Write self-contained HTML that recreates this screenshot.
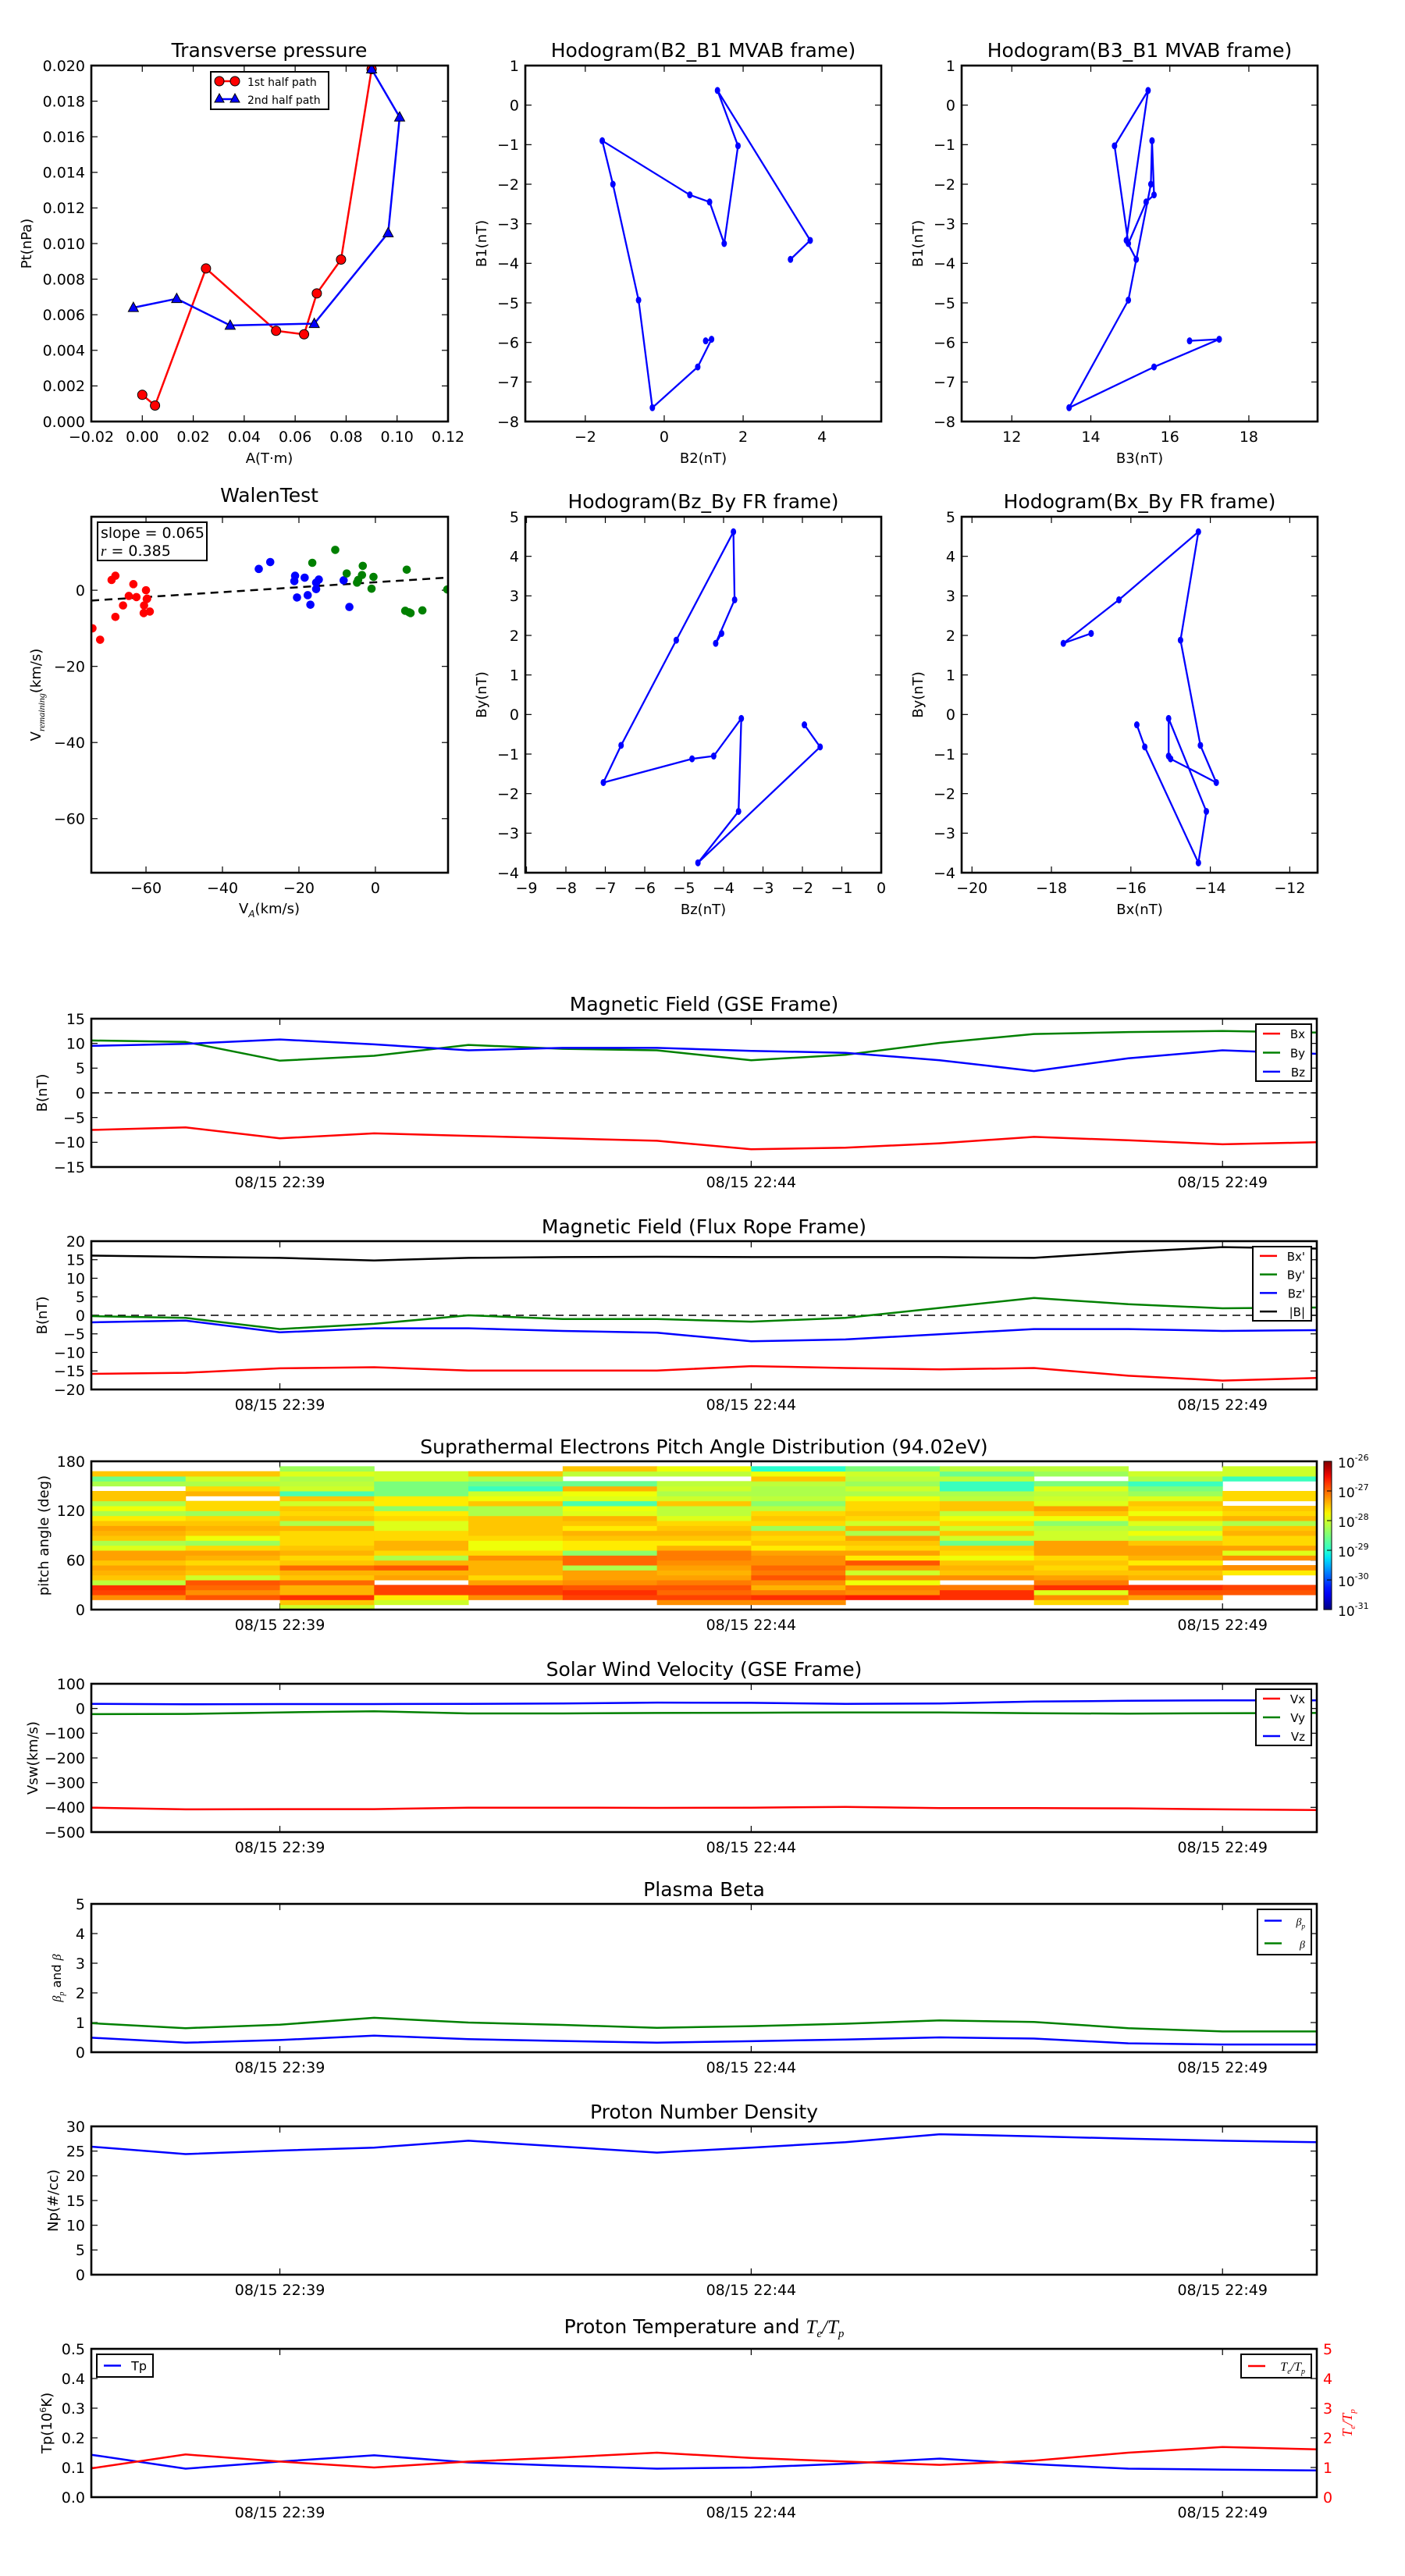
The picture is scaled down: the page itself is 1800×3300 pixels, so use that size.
<!DOCTYPE html>
<html><head><meta charset="utf-8"><style>
body{margin:0;background:#fff}
svg{display:block;font-family:"DejaVu Sans","Liberation Sans",sans-serif}
</style></head><body>
<svg id="fig" xmlns="http://www.w3.org/2000/svg" width="1800" height="3300" viewBox="0 0 1800 3300"></svg>
<script>
// ---------- data ----------
const tpA1=[0,0.005,0.025,0.0525,0.0635,0.0685,0.078,0.09];
const tpP1=[0.0015,0.0009,0.0086,0.0051,0.0049,0.0072,0.0091,0.0198];
const tpA2=[0.09,0.101,0.0965,0.0675,0.0345,0.0135,-0.0035];
const tpP2=[0.0198,0.0171,0.0106,0.0055,0.0054,0.0069,0.0064];
const mvB1=[-3.9,-3.42,0.37,-1.03,-3.5,-2.45,-2.27,-0.9,-2.0,-4.93,-7.65,-6.62,-5.92,-5.96];
const mvB2=[3.2,3.7,1.35,1.87,1.52,1.15,0.65,-1.57,-1.3,-0.65,-0.3,0.85,1.2,1.05];
const mvB3=[15.15,14.9,15.45,14.6,14.95,15.4,15.6,15.55,15.52,14.95,13.45,15.6,17.25,16.5];
const frBy=[2.05,1.8,2.9,4.62,1.88,-0.78,-1.72,-1.12,-1.05,-0.1,-2.45,-3.75,-0.82,-0.26];
const frBz=[-4.05,-4.2,-3.72,-3.75,-5.2,-6.6,-7.05,-4.8,-4.25,-3.55,-3.62,-4.65,-1.55,-1.95];
const frBx=[-17.0,-17.7,-16.3,-14.3,-14.75,-14.25,-13.85,-15.0,-15.05,-15.05,-14.1,-14.3,-15.65,-15.85];
const walRedX=[-74,-72,-69,-68,-68,-66,-64.5,-63.3,-62.5,-60,-60.5,-60.6,-59.7,-59,-59.8];
const walRedY=[-10,-13,2.7,3.8,-7,-4,-1.5,1.6,-1.8,0,-4,-6,-2.2,-5.6,-2.3];
const walBlueX=[-30.5,-27.5,-21,-21.2,-20.5,-18.5,-17.7,-17,-15.5,-15.5,-14.8,-8.3,-6.8];
const walBlueY=[5.6,7.4,3.8,2.4,-1.9,3.3,-1.3,-3.8,2,0.3,2.8,2.6,-4.4];
const walGreenX=[-16.5,-10.5,-7.5,-4.8,-4.5,-3.5,-3.3,-1,-0.5,7.8,8.2,8.8,9.2,12.3,18.8];
const walGreenY=[7.2,10.6,4.4,2.0,2.7,4,6.4,0.4,3.5,-5.4,5.4,-5.8,-6.0,-5.3,0.2];
const walSlope=0.065, walIntercept=2.1;
const tMin=[0,1,2,3,4,5,6,7,8,9,10,11,12,13];
const timeTicks=[2,7,12];
const timeLabels=["08/15 22:39","08/15 22:44","08/15 22:49"];
const gseBx=[-7.5,-7.0,-9.2,-8.2,-8.7,-9.2,-9.7,-11.4,-11.1,-10.2,-8.9,-9.6,-10.4,-10.0];
const gseBy=[10.6,10.3,6.5,7.5,9.7,8.9,8.6,6.6,7.7,10.1,11.9,12.3,12.5,12.2];
const gseBz=[9.5,9.9,10.8,9.8,8.6,9.1,9.1,8.5,8.1,6.6,4.4,7.0,8.6,7.9];
const frpBx=[-15.8,-15.5,-14.3,-14.0,-14.9,-14.9,-14.9,-13.7,-14.2,-14.6,-14.2,-16.3,-17.6,-16.9];
const frpBy=[-0.2,-0.7,-3.7,-2.3,0,-1.0,-1.0,-1.7,-0.7,2.0,4.7,3.0,1.9,2.1];
const frpBz=[-1.9,-1.4,-4.6,-3.5,-3.5,-4.2,-4.7,-7.0,-6.5,-5.1,-3.7,-3.7,-4.2,-4.0];
const frpBt=[16.1,15.8,15.5,14.8,15.5,15.7,15.8,15.7,15.7,15.7,15.5,17.1,18.4,18.0];
const n=null;
const padCols=[
[n,n,-27.2,-26.8,-26.7,-28.1,-27.5,-27.4,-27.3,-27.5,-27.3,-27.3,-27.9,-28.2,-27.5,-27.4,-27.3,-27.5,-27.7,-28.2,-27.8,-28.2,-27.5,-27.5,n,-28.2,-28.6,-27.5,n,n],
[n,n,-26.9,-27.2,-27.0,-26.9,-28.0,-27.5,-27.4,-27.6,-27.4,-27.3,-27.6,-28.3,-27.8,-27.5,-27.4,-27.5,-27.6,-28.3,-27.6,-27.6,n,-27.4,-27.6,-28.2,-28.0,-27.5,n,n],
[-28.0,-27.5,-26.7,-27.4,-27.4,-27.0,-27.5,-27.4,-27.0,-27.5,-27.6,-27.4,-27.5,-27.6,-27.6,-27.6,-27.4,-28.2,-27.5,-27.6,-27.5,-28.0,-27.5,-28.8,-28.0,-28.1,-28.2,-27.9,-28.3,n],
[n,-28.0,-27.7,-26.8,-26.8,n,-27.3,-27.4,-26.9,-27.4,-28.2,-27.6,-27.4,-27.4,-27.6,-27.6,-27.9,-27.9,-27.6,-27.7,-28.4,-27.7,-27.7,-28.5,-28.5,-28.5,-28.0,-28.0,n,n],
[n,n,-27.2,-26.8,-26.8,-27.3,-27.6,-27.4,-27.4,-27.4,-27.2,-27.6,-27.8,-27.8,-27.6,-27.5,-27.5,-27.5,-27.5,-28.2,-28.2,-27.5,-27.8,-28.0,-28.9,-28.6,-28.2,-27.5,n,n],
[n,n,-26.8,-26.7,-26.9,-27.2,-27.3,-27.3,-28.2,-27.0,-27.0,-28.4,-27.7,-27.7,-27.5,-27.4,-27.7,-27.5,-27.4,-27.9,-27.8,-28.8,-27.9,-27.8,-27.4,-28.6,n,-28.1,-27.5,n],
[n,-27.2,-26.8,-27.0,-26.9,-27.1,-27.3,-27.4,-27.3,-27.2,-27.1,-27.1,-27.4,-27.7,-27.5,-27.4,-27.5,-27.6,-27.9,-28.1,-28.1,-27.5,-28.0,-28.2,-28.0,-28.1,n,-28.1,-27.8,n],
[n,-27.2,-26.7,-27.1,-27.4,-27.2,-26.9,-27.1,-27.0,-27.2,-27.2,-27.3,-27.7,-27.5,-27.6,-27.5,-28.3,-27.6,-27.5,-27.6,-28.1,-28.4,-28.1,-28.2,-28.2,-28.1,-27.5,-27.8,-29.0,n],
[n,n,-26.6,-27.2,-27.1,-27.8,-27.2,-28.0,-27.3,-26.9,-27.7,-27.3,-27.6,-27.5,-27.3,-28.2,-27.4,-28.0,-27.6,-27.5,-27.6,-27.6,-27.8,-28.2,-28.0,-28.3,-28.1,-28.0,-28.5,n],
[n,n,-26.7,-26.7,-27.1,n,-27.2,-27.5,-27.4,-27.5,-27.8,-27.6,-27.5,-28.6,-28.0,-27.5,-28.0,-27.6,-27.8,-28.1,-27.5,-27.5,-28.1,-28.2,-28.9,-28.9,-28.1,-28.6,-28.1,n],
[n,-27.6,-27.2,-27.9,-26.7,-27.1,-27.3,-27.5,-27.6,-27.5,-27.6,-27.3,-27.3,-27.3,-28.0,-28.0,-28.1,-28.4,-27.8,-27.5,-27.3,-27.9,-28.0,-28.1,-27.9,-28.5,n,-28.3,-28.1,n],
[n,n,-27.3,-26.9,-26.7,n,-27.4,-27.5,-27.3,-27.7,-27.4,-27.3,-27.3,-27.5,-28.1,-27.8,-28.2,-27.9,-27.5,-27.8,-27.6,-27.5,-27.9,-28.3,-28.5,-28.9,-28.2,-28.0,n,n],
[n,n,n,-26.9,-26.8,n,n,-27.7,-27.2,n,-27.2,-27.9,-27.3,-27.6,-27.6,-27.4,-27.5,-28.2,-27.4,-27.6,-27.5,n,-27.6,-27.6,n,n,-28.9,-28.0,-28.0,n]];
const swVx=[-401,-408,-407,-407,-401,-401,-402,-401,-398,-403,-403,-404,-408,-411];
const swVy=[-23,-22,-16,-11,-20,-20,-18,-17,-16,-16,-19,-21,-19,-18];
const swVz=[19,17,18,18,19,20,24,23,19,20,28,31,33,33];
const betaP=[0.49,0.32,0.41,0.56,0.44,0.38,0.32,0.37,0.43,0.50,0.46,0.30,0.26,0.26];
const betaT=[0.98,0.81,0.93,1.16,1.0,0.92,0.82,0.88,0.96,1.07,1.02,0.81,0.70,0.70];
const dens=[25.9,24.4,25.1,25.7,27.1,25.9,24.7,25.7,26.8,28.4,28.0,27.5,27.1,26.8];
const tempP=[0.143,0.096,0.12,0.141,0.117,0.106,0.096,0.10,0.113,0.13,0.111,0.096,0.093,0.09];
const teTp=[0.97,1.44,1.2,1.0,1.2,1.34,1.5,1.32,1.2,1.09,1.23,1.5,1.69,1.61];

// ---------- helpers ----------
const NS="http://www.w3.org/2000/svg";
const svg=document.getElementById('fig');
function mk(tag,attrs,nm,parent){
  const el=document.createElementNS(NS,tag);
  for(const k in attrs) el.setAttribute(k,attrs[k]);
  
  
  (parent||svg).appendChild(el);
  return el;
}
function txt(x,y,s,nm,o){
  o=o||{};
  const el=mk('text',{x:x,y:y,'font-size':o.fs||20,'text-anchor':o.anchor||'middle',fill:o.fill||'#000','font-style':o.italic?'italic':'normal'},nm);
  if(o.rot) el.setAttribute('transform','rotate(-90 '+x+' '+y+')');
  if(o.family) el.setAttribute('font-family',o.family);
  el.textContent=s;
  return el;
}
function fmt(v,d){const s=Math.abs(v).toFixed(d);return (v<0-1e-12?'\u2212':'')+s;}
function axes(nm,b,xd,yd,xt,yt,xl,yl,fs){
  fs=fs||20;
  const sx=v=>b.x0+(v-xd[0])/(xd[1]-xd[0])*(b.x1-b.x0);
  const sy=v=>b.y1-(v-yd[0])/(yd[1]-yd[0])*(b.y1-b.y0);
  const g=mk('g',{},nm+'-axes');
  xt.forEach((v,i)=>{
    const x=sx(v);
    mk('line',{x1:x,x2:x,y1:b.y1,y2:b.y1-8,stroke:'#000','stroke-width':1.2},nm+'-xtick',g);
    mk('line',{x1:x,x2:x,y1:b.y0,y2:b.y0+8,stroke:'#000','stroke-width':1.2},nm+'-xtick-top',g);
    txt(x,b.y1+fs+7,xl[i],nm+'-xtick-label',{fs:fs});
  });
  yt.forEach((v,i)=>{
    const y=sy(v);
    mk('line',{x1:b.x0,x2:b.x0+8,y1:y,y2:y,stroke:'#000','stroke-width':1.2},nm+'-ytick',g);
    mk('line',{x1:b.x1,x2:b.x1-8,y1:y,y2:y,stroke:'#000','stroke-width':1.2},nm+'-ytick-right',g);
    if(yl) txt(b.x0-8,y+fs*0.36,yl[i],nm+'-ytick-label',{fs:fs,anchor:'end'});
  });
  const cid='clip-'+nm;
  const cp=mk('clipPath',{id:cid},nm+'-clip');
  mk('rect',{x:b.x0,y:b.y0,width:b.x1-b.x0,height:b.y1-b.y0},nm+'-clip-rect',cp);
  const data=mk('g',{'clip-path':'url(#'+cid+')'},nm+'-plot-area');
  return {sx,sy,data,frame:()=>mk('rect',{x:b.x0,y:b.y0,width:b.x1-b.x0,height:b.y1-b.y0,fill:'none',stroke:'#000','stroke-width':2.6},nm+'-frame')};
}
function line(ax,xs,ys,col,nm,w,dash){
  const pts=xs.map((x,i)=>ax.sx(x).toFixed(1)+','+ax.sy(ys[i]).toFixed(1)).join(' ');
  const el=mk('polyline',{points:pts,fill:'none',stroke:col,'stroke-width':w||2.5,'stroke-linejoin':'round'},nm,ax.data);
  if(dash) el.setAttribute('stroke-dasharray',dash);
  return el;
}
function range(a,b,s){const r=[];for(let v=a;v<=b+1e-9;v+=s)r.push(+v.toFixed(6));return r;}
// matplotlib jet segment data
function interp(segs,f){for(let i=1;i<segs.length;i++){if(f<=segs[i][0]){const a=segs[i-1],b=segs[i];return a[1]+(b[1]-a[1])*(f-a[0])/(b[0]-a[0]);}}return segs[segs.length-1][1];}
const JR=[[0,0],[0.35,0],[0.66,1],[0.89,1],[1,0.5]];
const JG=[[0,0],[0.125,0],[0.375,1],[0.64,1],[0.91,0],[1,0]];
const JB=[[0,0.5],[0.11,1],[0.34,1],[0.65,0],[1,0]];
function jet(f){f=Math.max(0,Math.min(1,f));const c=s=>Math.round(255*interp(s,f));return 'rgb('+c(JR)+','+c(JG)+','+c(JB)+')';}

// ---------- Transverse pressure ----------
(function(){
  const b={x0:117,x1:574,y0:84,y1:540};
  const xt=range(-0.02,0.12,0.02), yt=range(0,0.02,0.002);
  const ax=axes('transverse',b,[-0.02,0.12],[0,0.02],xt,yt,xt.map(v=>fmt(v,2)),yt.map(v=>fmt(v,3)),19);
  line(ax,tpA1,tpP1,'#f00','first-half-line',2.5);
  line(ax,tpA2,tpP2,'#00f','second-half-line',2.5);
  tpA1.forEach((a,i)=>mk('circle',{cx:ax.sx(a),cy:ax.sy(tpP1[i]),r:6,fill:'#f00',stroke:'#000','stroke-width':1},'first-half-marker',ax.data));
  tpA2.forEach((a,i)=>{const x=ax.sx(a),y=ax.sy(tpP2[i]);mk('polygon',{points:`${x},${y-7} ${x-6.5},${y+5} ${x+6.5},${y+5}`,fill:'#00f',stroke:'#000','stroke-width':1},'second-half-marker',ax.data);});
  ax.frame();
  txt(345,73,'Transverse pressure','transverse-title',{fs:25});
  txt(40,312,'Pt(nPa)','transverse-y-label',{fs:18,rot:1});
  txt(345,593,'A(T\u00b7m)','transverse-x-label',{fs:18});
  const lg=mk('g',{},'transverse-legend');
  mk('rect',{x:270,y:92,width:151,height:48,fill:'#fff',stroke:'#000','stroke-width':2},'legend-box',lg);
  mk('line',{x1:281,x2:301,y1:104,y2:104,stroke:'#f00','stroke-width':2.5},'legend-first-line',lg);
  mk('circle',{cx:281,cy:104,r:6,fill:'#f00',stroke:'#000'},'legend-first-marker',lg);
  mk('circle',{cx:301,cy:104,r:6,fill:'#f00',stroke:'#000'},'legend-first-marker',lg);
  mk('line',{x1:281,x2:301,y1:127,y2:127,stroke:'#00f','stroke-width':2.5},'legend-second-line',lg);
  mk('polygon',{points:'281,120 275,131 287,131',fill:'#00f',stroke:'#000'},'legend-second-marker',lg);
  mk('polygon',{points:'301,120 295,131 307,131',fill:'#00f',stroke:'#000'},'legend-second-marker',lg);
  txt(317,110,'1st half path','legend-first-label',{fs:14,anchor:'start'});
  txt(317,133,'2nd half path','legend-second-label',{fs:14,anchor:'start'});
})();

// ---------- Hodograms ----------
function hodo(nm,b,xd,yd,xt,yt,xs,ys,title,xlab,ylab){
  const ax=axes(nm,b,xd,yd,xt,yt,xt.map(v=>fmt(v,0)),yt.map(v=>fmt(v,0)),19);
  line(ax,xs,ys,'#00f',nm+'-path',2.3);
  xs.forEach((x,i)=>mk('ellipse',{cx:ax.sx(x),cy:ax.sy(ys[i]),rx:3.5,ry:4.5,fill:'#00f'},nm+'-point',ax.data));
  ax.frame();
  txt((b.x0+b.x1)/2,b.y0-11,title,nm+'-title',{fs:25});
  txt((b.x0+b.x1)/2,b.y1+53,xlab,nm+'-x-label',{fs:18});
  txt(b.x0-50,(b.y0+b.y1)/2,ylab,nm+'-y-label',{fs:18,rot:1});
}
hodo('hodogram-b2-b1',{x0:673,x1:1129,y0:84,y1:540},[-3.52,5.5],[-8,1],[-2,0,2,4],range(-8,1,1),mvB2,mvB1,'Hodogram(B2_B1 MVAB frame)','B2(nT)','B1(nT)');
hodo('hodogram-b3-b1',{x0:1232,x1:1688,y0:84,y1:540},[10.73,19.74],[-8,1],[12,14,16,18],range(-8,1,1),mvB3,mvB1,'Hodogram(B3_B1 MVAB frame)','B3(nT)','B1(nT)');
hodo('hodogram-bz-by',{x0:673,x1:1129,y0:662,y1:1118},[-9.03,0],[-4,5],range(-9,0,1),range(-4,5,1),frBz,frBy,'Hodogram(Bz_By FR frame)','Bz(nT)','By(nT)');
hodo('hodogram-bx-by',{x0:1232,x1:1688,y0:662,y1:1118},[-20.26,-11.3],[-4,5],[-20,-18,-16,-14,-12],range(-4,5,1),frBx,frBy,'Hodogram(Bx_By FR frame)','Bx(nT)','By(nT)');

// ---------- Walen test ----------
(function(){
  const b={x0:117,x1:574,y0:662,y1:1118};
  const ax=axes('walen',b,[-74.3,19],[-74.2,19.3],[-60,-40,-20,0],[-60,-40,-20,0],['\u221260','\u221240','\u221220','0'],['\u221260','\u221240','\u221220','0'],19);
  line(ax,[-74.3,19],[walSlope*-74.3+walIntercept,walSlope*19+walIntercept],'#000','walen-fit-line',2.5,'10,7');
  walRedX.forEach((x,i)=>mk('circle',{cx:ax.sx(x),cy:ax.sy(walRedY[i]),r:5.3,fill:'#f00'},'walen-point-red',ax.data));
  walBlueX.forEach((x,i)=>mk('circle',{cx:ax.sx(x),cy:ax.sy(walBlueY[i]),r:5.3,fill:'#00f'},'walen-point-blue',ax.data));
  walGreenX.forEach((x,i)=>mk('circle',{cx:ax.sx(x),cy:ax.sy(walGreenY[i]),r:5.3,fill:'#008000'},'walen-point-green',ax.data));
  ax.frame();
  mk('rect',{x:125,y:669,width:140,height:49,fill:'#fff',stroke:'#000','stroke-width':2},'walen-stats-box');
  txt(129,689,'slope = '+walSlope.toFixed(3),'walen-slope-text',{fs:19,anchor:'start'});
  const r=txt(129,712,'','walen-r-text',{fs:19,anchor:'start'});
  r.innerHTML='<tspan font-style="italic" font-family="Liberation Serif, serif">r</tspan> = 0.385';
  txt(345,643,'WalenTest','walen-title',{fs:25});
  const yl=txt(52,890,'','walen-y-label',{fs:18,rot:1});
  yl.innerHTML='V<tspan font-size="12" font-style="italic" font-family="Liberation Serif, serif" dy="5">remaining</tspan><tspan dy="-5">(km/s)</tspan>';
  const xl=txt(345,1170,'','walen-x-label',{fs:18});
  xl.innerHTML='V<tspan font-size="12" font-style="italic" dy="5">A</tspan><tspan dy="-5">(km/s)</tspan>';
})();

// ---------- Time series ----------
const TX=[117,1687];
function tsPanel(nm,y0,y1,yd,yt,yl,title,ylab){
  const ax=axes(nm,{x0:TX[0],x1:TX[1],y0:y0,y1:y1},[0,13],yd,timeTicks,yt,timeLabels,yl,19);
  txt((TX[0]+TX[1])/2,y0-10,title,nm+'-title',{fs:25});
  return ax;
}
function legend(nm,x0,y0,w,h,labels,cols,fs){
  const g=mk('g',{},nm);
  mk('rect',{x:x0,y:y0,width:w,height:h,fill:'#fff',stroke:'#000','stroke-width':2},nm+'-box',g);
  const step=h/labels.length;
  labels.forEach((l,i)=>{
    const y=y0+step*(i+0.5);
    mk('line',{x1:x0+9,x2:x0+31,y1:y,y2:y,stroke:cols[i],'stroke-width':2.5},nm+'-swatch',g);
    const t=txt(x0+w-8,y+6,'',nm+'-label',{fs:fs||16,anchor:'end'});
    t.innerHTML=l;
    g.appendChild(t);
  });
}
// GSE
(function(){
  const ax=tsPanel('gse-field',1305,1495,[-15,15],range(-15,15,5),range(-15,15,5).map(v=>fmt(v,0)),'Magnetic Field (GSE Frame)');
  line(ax,[0,13],[0,0],'#000','zero-line',1.5,'10,7');
  line(ax,tMin,gseBx,'#f00','gse-bx-line');
  line(ax,tMin,gseBy,'#008000','gse-by-line');
  line(ax,tMin,gseBz,'#00f','gse-bz-line');
  ax.frame();
  txt(60,1400,'B(nT)','gse-y-label',{fs:18,rot:1});
  legend('gse-legend',1609,1312,71,73,['Bx','By','Bz'],['#f00','#008000','#00f'],15);
})();
// Flux rope
(function(){
  const ax=tsPanel('fr-field',1590,1780,[-20,20],range(-20,20,5),range(-20,20,5).map(v=>fmt(v,0)),'Magnetic Field (Flux Rope Frame)');
  line(ax,[0,13],[0,0],'#000','zero-line',1.5,'10,7');
  line(ax,tMin,frpBx,'#f00','fr-bx-line');
  line(ax,tMin,frpBy,'#008000','fr-by-line');
  line(ax,tMin,frpBz,'#00f','fr-bz-line');
  line(ax,tMin,frpBt,'#000','fr-bt-line');
  ax.frame();
  txt(60,1685,'B(nT)','fr-y-label',{fs:18,rot:1});
  legend('fr-legend',1605,1597,75,95,["Bx'","By'","Bz'","|B|"],['#f00','#008000','#00f','#000'],15);
})();
// PAD heatmap
(function(){
  const ax=tsPanel('pad',1872,2062,[0,180],[0,60,120,180],['0','60','120','180'],'Suprathermal Electrons Pitch Angle Distribution (94.02eV)');
  padCols.forEach((col,i)=>col.forEach((v,j)=>{
    if(v===null) return;
    const x=ax.sx(i),x2=ax.sx(i+1),y=ax.sy(6*j+6),y2=ax.sy(6*j);
    mk('rect',{x:x,y:y,width:x2-x+0.5,height:y2-y+0.5,fill:jet((v+31)/5)},'pad-cell',ax.data);
  }));
  ax.frame();
  txt(62,1967,'pitch angle (deg)','pad-y-label',{fs:18,rot:1});
  const grad=mk('linearGradient',{id:'jetgrad',x1:0,y1:1,x2:0,y2:0},'colorbar-gradient');
  for(let k=0;k<=20;k++) mk('stop',{offset:k/20,'stop-color':jet(k/20)},'gradient-stop',grad);
  mk('rect',{x:1696,y:1872,width:10,height:190,fill:'url(#jetgrad)',stroke:'#000','stroke-width':1},'colorbar');
  [-26,-27,-28,-29,-30,-31].forEach((e,i)=>{
    const y=1872+i*38;
    mk('line',{x1:1700,x2:1706,y1:y,y2:y,stroke:'#000'},'colorbar-tick');
    const t=txt(1714,y+8,'','colorbar-label',{fs:17,anchor:'start'});
    t.innerHTML='10<tspan font-size="11" dy="-9">'+e+'</tspan>';
  });
})();
// Solar wind velocity
(function(){
  const ax=tsPanel('velocity',2157,2347,[-500,100],range(-500,100,100),range(-500,100,100).map(v=>fmt(v,0)),'Solar Wind Velocity (GSE Frame)');
  line(ax,tMin,swVx,'#f00','vx-line');
  line(ax,tMin,swVy,'#008000','vy-line');
  line(ax,tMin,swVz,'#00f','vz-line');
  ax.frame();
  txt(48,2252,'Vsw(km/s)','velocity-y-label',{fs:18,rot:1});
  legend('velocity-legend',1609,2164,71,72,['Vx','Vy','Vz'],['#f00','#008000','#00f'],15);
})();
// Plasma beta
(function(){
  const ax=tsPanel('beta',2439,2629,[0,5],range(0,5,1),range(0,5,1).map(v=>fmt(v,0)),'Plasma Beta');
  line(ax,tMin,betaP,'#00f','beta-p-line');
  line(ax,tMin,betaT,'#008000','beta-line');
  ax.frame();
  const yl=txt(78,2534,'','beta-y-label',{fs:16,rot:1});
  yl.innerHTML='<tspan font-style="italic" font-family="Liberation Serif, serif">β<tspan font-size="10" dy="4">p</tspan></tspan><tspan dy="-4"> and </tspan><tspan font-style="italic" font-family="Liberation Serif, serif">β</tspan>';
  legend('beta-legend',1611,2446,69,58,['<tspan font-style="italic" font-family="Liberation Serif, serif">β<tspan font-size="9" dy="4">p</tspan></tspan>','<tspan font-style="italic" font-family="Liberation Serif, serif">β</tspan>'],['#00f','#008000'],14);
})();
// Density
(function(){
  const ax=tsPanel('density',2724,2914,[0,30],range(0,30,5),range(0,30,5).map(v=>fmt(v,0)),'Proton Number Density');
  line(ax,tMin,dens,'#00f','density-line');
  ax.frame();
  txt(74,2819,'Np(#/cc)','density-y-label',{fs:18,rot:1});
})();
// Temperature
(function(){
  const ax=axes('temperature',{x0:TX[0],x1:TX[1],y0:3009,y1:3199},[0,13],[0,0.5],timeTicks,range(0,0.5,0.1),timeLabels,range(0,0.5,0.1).map(v=>fmt(v,1)),19);
  line(ax,tMin,tempP,'#00f','tp-line');
  const sy2=v=>3199-v/5*190;
  const pts=tMin.map((t,i)=>ax.sx(t).toFixed(1)+','+sy2(teTp[i]).toFixed(1)).join(' ');
  mk('polyline',{points:pts,fill:'none',stroke:'#f00','stroke-width':2.5},'te-tp-line',ax.data);
  ax.frame();
  range(0,5,1).forEach(v=>txt(1695,sy2(v)+7,String(v),'right-ytick-label',{fs:19,anchor:'start',fill:'#f00'}));
  const tt=txt(902,2989,'','temperature-title',{fs:25});
  tt.innerHTML='Proton Temperature and <tspan font-style="italic" font-family="Liberation Serif, serif">T<tspan font-size="15" dy="5">e</tspan><tspan dy="-5">/T</tspan><tspan font-size="15" dy="5">p</tspan></tspan>';
  const yl=txt(66,3104,'','temperature-y-label',{fs:18,rot:1});
  yl.innerHTML='Tp(10<tspan font-size="11" dy="-7">6</tspan><tspan dy="7">K)</tspan>';
  const yr=txt(1732,3104,'','te-tp-y-label',{fs:18,rot:1,fill:'#f00'});
  yr.innerHTML='<tspan font-style="italic" font-family="Liberation Serif, serif">T<tspan font-size="11" dy="4">e</tspan><tspan dy="-4">/T</tspan><tspan font-size="11" dy="4">p</tspan></tspan>';
  legend('tp-legend',124,3016,72,29,['Tp'],['#00f'],16);
  legend('te-tp-legend',1590,3016,90,30,['<tspan font-style="italic" font-family="Liberation Serif, serif">T<tspan font-size="10" dy="4">e</tspan><tspan dy="-4">/T</tspan><tspan font-size="10" dy="4">p</tspan></tspan>'],['#f00'],16);
})();
</script>
</body></html>
